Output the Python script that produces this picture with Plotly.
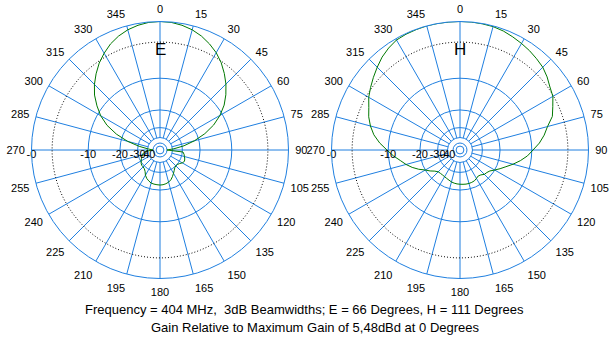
import numpy as np
import plotly.graph_objects as go

# Pattern samples every 5 degrees (clockwise from 0 = boresight), gain in dB
angles_deg = list(range(0, 360, 5))

e_plane_db = [
    0.0, -0.05, -0.25, -0.55, -1.0, -1.6, -2.3, -3.2, -4.3, -5.5,          # 0..45
    -6.9, -8.5, -10.6, -13.3, -17.0, -22.0, -28.5, -38.0, -50.0, -29.5,    # 50..95
    -28.5, -27.9, -27.2, -26.8, -27.6, -29.0, -29.8, -30.0, -29.5, -28.2,  # 100..145
    -26.8, -25.3, -24.0, -23.2, -22.7, -22.4, -22.3, -22.4, -22.5, -22.7,  # 150..195
    -23.4, -24.2, -25.5, -27.4, -28.5, -28.9, -28.9, -29.5, -30.5, -31.5,  # 200..245
    -32.5, -33.5, -35.0, -38.0, -50.0, -41.0, -31.0, -23.0, -17.5, -13.5,  # 250..295
    -10.8, -8.8, -7.0, -5.6, -4.4, -3.3, -2.4, -1.6, -1.0, -0.55,          # 300..345
    -0.25, -0.05,                                                          # 350..355
]

h_plane_db = [
    0.0, 0.0, -0.05, -0.1, -0.25, -0.5, -0.75, -1.0, -1.3, -1.6,           # 0..45
    -2.1, -2.7, -3.1, -3.9, -4.6, -6.0, -7.0, -8.2, -9.7, -11.0,           # 50..95
    -12.7, -14.6, -16.6, -18.3, -20.0, -21.6, -22.3, -22.6, -23.6, -24.0,  # 100..145
    -23.4, -22.8, -22.6, -22.5, -22.5, -22.6, -22.7, -22.8, -23.0, -23.3,  # 150..195
    -23.8, -24.2, -24.5, -24.7, -24.7, -24.5, -23.4, -21.6, -20.0, -17.8,  # 200..245
    -15.9, -14.3, -12.9, -11.2, -9.7, -8.0, -6.6, -5.6, -4.8, -4.2,        # 250..295
    -3.4, -2.8, -2.2, -1.6, -1.0, -0.55, -0.2, -0.1, -0.05, 0.0,           # 300..345
    0.0, 0.0,                                                              # 350..355
]

# Grid definition
ring_db = [-10, -20, -30, -40, -50, -60]
beamwidth_ring_db = -3
spoke_deg = list(range(0, 360, 15))
spoke_inner_db = -40
radial_label_db = [0, -10, -20, -30, -40]
radial_label_text = ["-0", "-10", "-20", "-30", "-40"]
angle_tick_text = [str(a) for a in spoke_deg]

plane_titles = ["E", "H"]
caption_1 = "Frequency = 404 MHz,\u00a0 3dB Beamwidths; E = 66 Degrees, H = 111 Degrees"
caption_2 = "Gain Relative to Maximum Gain of 5,48dBd at 0 Degrees"

GRID_BLUE = "#1f7fe0"
TRACE_GREEN = "#007800"
FONT = "Liberation Sans, Arial, sans-serif"


def arrl_radius(db):
    """ARRL log-periodic scale: radius shrinks by 0.89 for every 2 dB."""
    return 0.89 ** (-np.asarray(db, dtype=float) / 2.0)


fig = go.Figure()

for idx, (pattern, title) in enumerate(zip([e_plane_db, h_plane_db], plane_titles)):
    polar = "polar" if idx == 0 else "polar2"

    # spokes from the -40 dB ring outwards
    sp_theta, sp_r = [], []
    for a in spoke_deg:
        sp_theta += [a, a, None]
        sp_r += [float(arrl_radius(spoke_inner_db)), 1.0, None]
    fig.add_trace(go.Scatterpolar(
        theta=sp_theta, r=sp_r, mode="lines", subplot=polar,
        line=dict(color=GRID_BLUE, width=1), hoverinfo="skip", showlegend=False))

    # dotted -3 dB ring
    ring_theta = np.linspace(0, 360, 361)
    fig.add_trace(go.Scatterpolar(
        theta=ring_theta, r=np.full(ring_theta.shape, arrl_radius(beamwidth_ring_db)),
        mode="lines", subplot=polar,
        line=dict(color="black", width=1, dash="1px,2px"),
        hoverinfo="skip", showlegend=False))

    # radiation pattern
    th = angles_deg + [angles_deg[0]]
    rr = list(arrl_radius(pattern)) + [float(arrl_radius(pattern[0]))]
    fig.add_trace(go.Scatterpolar(
        theta=th, r=rr, mode="lines", subplot=polar,
        line=dict(color=TRACE_GREEN, width=1), showlegend=False, name=title))

    # dB scale labels along the 270 degree spoke
    fig.add_trace(go.Scatterpolar(
        theta=[270] * len(radial_label_db), r=arrl_radius(radial_label_db),
        mode="text", text=radial_label_text, textposition="bottom center",
        textfont=dict(family=FONT, size=11, color="black"),
        subplot=polar, hoverinfo="skip", showlegend=False))

W, H = 609, 337
R = 128.5
centers_x = [160, 460]
center_y = 150


def polar_layout(cx):
    return dict(
        domain=dict(x=[(cx - R) / W, (cx + R) / W],
                    y=[1 - (center_y + R) / H, 1 - (center_y - R) / H]),
        bgcolor="white",
        radialaxis=dict(range=[0, 1], tickvals=list(arrl_radius(ring_db)),
                        showticklabels=False, ticks="", showline=False,
                        gridcolor=GRID_BLUE, gridwidth=1),
        angularaxis=dict(direction="clockwise", rotation=90,
                         tickvals=spoke_deg, ticktext=angle_tick_text,
                         showgrid=False, ticks="outside", ticklen=4,
                         tickcolor="rgba(0,0,0,0)", showline=True,
                         linecolor=GRID_BLUE, linewidth=1,
                         tickfont=dict(family=FONT, size=11, color="black")),
    )


def paper_text(x_px, y_px, text, size):
    return dict(x=x_px / W, y=1 - y_px / H, xref="paper", yref="paper",
                xanchor="center", yanchor="middle", text=text, showarrow=False,
                font=dict(family=FONT, size=size, color="black"))


annotations = [paper_text(cx, 49, t, 17) for cx, t in zip(centers_x, plane_titles)]
annotations.append(paper_text(304, 309, caption_1, 13))
annotations.append(paper_text(315, 327, caption_2, 13))

fig.update_layout(
    width=W, height=H,
    margin=dict(l=0, r=0, t=0, b=0),
    paper_bgcolor="white", plot_bgcolor="white",
    polar=polar_layout(centers_x[0]),
    polar2=polar_layout(centers_x[1]),
    annotations=annotations,
    showlegend=False,
)

fig.write_html("out.html")
